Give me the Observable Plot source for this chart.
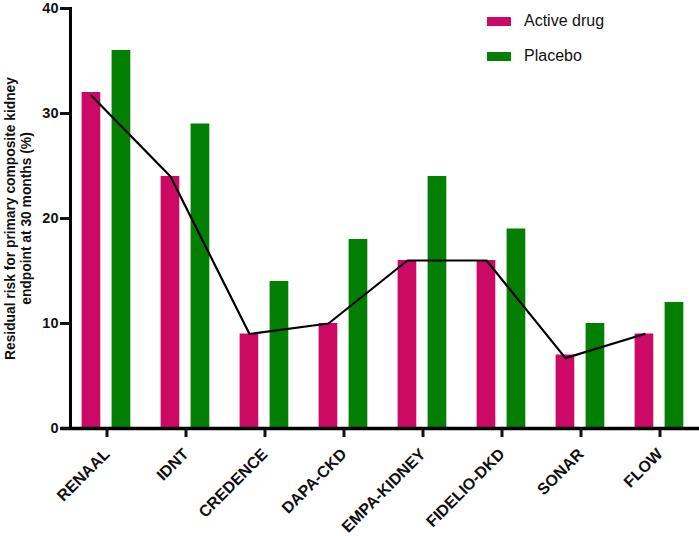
<!DOCTYPE html>
<html>
<head>
<meta charset="utf-8">
<script src="https://cdn.jsdelivr.net/npm/d3@7"></script>
<script src="https://cdn.jsdelivr.net/npm/@observablehq/plot@0.6"></script>
<style>
  html, body { margin: 0; padding: 0; background: #fff; }
  #wrap { position: relative; width: 699px; height: 536px; font-family: "Liberation Sans", Arial, sans-serif; }
  #legend { position: absolute; left: 487px; top: 4px; }
  .lg-swatch { height: 34px; font-size: 16px; color: #111; margin-right: 0 !important; }
  .lg-swatch svg { margin-right: 13px !important; }
  #chart svg { overflow: visible; }
</style>
</head>
<body>
<div id="wrap"><div id="chart"></div><div id="legend"></div></div>
<script>
const trials = ["RENAAL", "IDNT", "CREDENCE", "DAPA-CKD", "EMPA-KIDNEY", "FIDELIO-DKD", "SONAR", "FLOW"];
const activeDrug = [32, 24, 9, 10, 16, 16, 7, 9];
const placebo = [36, 29, 14, 18, 24, 19, 10, 12];
const trendLine = [31.7, 24, 9, 10, 16, 16, 6.7, 9];
const yTicks = [0, 10, 20, 30, 40];
const seriesNames = ["Active drug", "Placebo"];
const seriesColors = ["#cc0a66", "#037f03"];

const rows = trials.map((t, i) => ({trial: t, active: activeDrug[i], placebo: placebo[i], trend: trendLine[i]}));

const chart = Plot.plot({
  width: 699,
  height: 536,
  marginLeft: 70,
  marginRight: 0,
  marginTop: 8,
  marginBottom: 108,
  style: {fontFamily: "'Liberation Sans', Arial, sans-serif", color: "#111", background: "#fff"},
  x: {domain: trials, range: [65.4, 699.6], padding: 0},
  y: {domain: [0, 40]},
  marks: [
    Plot.barY(rows, {x: "trial", y: "active", fill: seriesColors[0], insetLeft: 14.6, insetRight: 45.7}),
    Plot.barY(rows, {x: "trial", y: "placebo", fill: seriesColors[1], insetLeft: 44.6, insetRight: 15.7}),
    Plot.line(rows, {x: "trial", y: "trend", stroke: "#000", strokeWidth: 2.2, dx: -15.5, strokeLinejoin: "miter"}),
    Plot.ruleY([0], {stroke: "#000", strokeWidth: 3.5, insetLeft: -10}),
    Plot.frame({anchor: "left", stroke: "#000", strokeWidth: 3}),
    Plot.axisY({ticks: yTicks, tickSize: 10, tickPadding: 2, strokeWidth: 3, fontSize: 14.5, fontWeight: "bold", label: null}),
    Plot.axisX({tickRotate: -45, tickSize: 9, tickPadding: 14, strokeWidth: 3, fontSize: 16, fontWeight: "bold", label: null}),
    Plot.text([0], {
      frameAnchor: "left",
      text: () => "Residual risk for primary composite kidney\nendpoint at 30 months (%)",
      rotate: -90,
      dx: -53,
      textAnchor: "middle",
      lineAnchor: "middle",
      lineHeight: 1.2,
      fontSize: 13.8,
      fontWeight: "bold",
      fill: "#111"
    })
  ]
});
document.getElementById("chart").appendChild(chart);

const legend = Plot.legend({
  color: {domain: seriesNames, range: seriesColors},
  legend: "swatches",
  columns: 1,
  swatchWidth: 24,
  swatchHeight: 9,
  className: "lg",
  style: {fontFamily: "'Liberation Sans', Arial, sans-serif", fontSize: "16px"}
});
document.getElementById("legend").appendChild(legend);
</script>
</body>
</html>
